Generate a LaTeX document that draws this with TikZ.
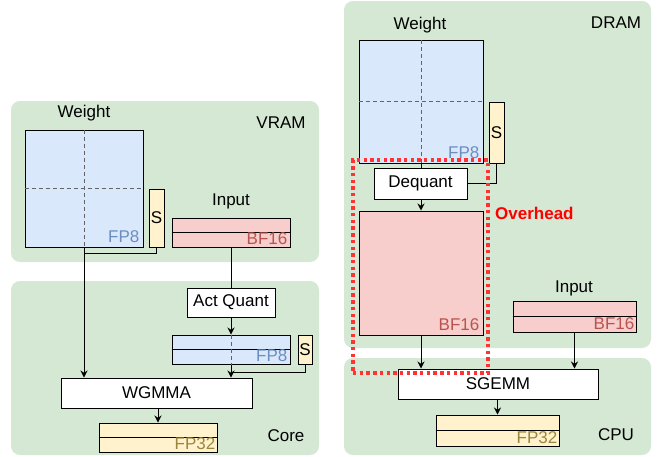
\documentclass[tikz,border=0pt]{standalone}
\usepackage{fontspec}
\setmainfont{Liberation Sans}
\usetikzlibrary{arrows.meta}
\definecolor{panelgreen}{RGB}{213,232,212}
\definecolor{fpblue}{RGB}{218,232,252}
\definecolor{fppink}{RGB}{248,206,204}
\definecolor{fpyellow}{RGB}{255,242,204}
\definecolor{txtblue}{RGB}{108,142,191}
\definecolor{txtred}{RGB}{184,84,80}
\definecolor{txtolive}{RGB}{155,135,60}
\definecolor{ohred}{RGB}{255,51,51}
\definecolor{dashgray}{RGB}{100,100,100}
\tikzset{
  panel/.style={fill=panelgreen, rounded corners=9pt, inner sep=0pt, draw=none},
  box/.style={draw=black, line width=1pt, inner sep=0pt, rectangle},
  bluebox/.style={box, fill=fpblue},
  pinkbox/.style={box, fill=fppink},
  yellowbox/.style={box, fill=fpyellow},
  whitebox/.style={box, fill=white},
  lbl/.style={inner sep=0pt, font=\fontsize{17}{20}\selectfont},
  typelbl/.style={lbl, anchor=base east},
  grid/.style={draw=dashgray, line width=1pt, dash pattern=on 4pt off 3pt},
  conn/.style={draw=black, line width=1pt},
  arr/.style={conn, -{Stealth[length=7pt,width=7pt]}},
  overhead/.style={draw=ohred, line width=3.2pt, dash pattern=on 3.4pt off 3.3pt}
}
\begin{document}
\begin{tikzpicture}[x=1pt,y=-1pt]
\useasboundingbox (0,0) rectangle (658,456);
% panels
\node[panel, minimum width=308pt, minimum height=161pt] (vram) at (165,181.5) {};
\node[panel, minimum width=308pt, minimum height=174pt] (core) at (165,368) {};
\node[panel, minimum width=307pt, minimum height=347pt] (dram) at (497.5,174.5) {};
\node[panel, minimum width=307pt, minimum height=97pt] (cpu) at (497.5,406.5) {};
% panel labels
\node[lbl] (vramlbl) at (281,123) {VRAM};
\node[lbl] (corelbl) at (286,436) {Core};
\node[lbl] (dramlbl) at (616,23) {DRAM};
\node[lbl] (cpulbl) at (616,435) {CPU};

% ---------- left side ----------
\node[lbl] (w1lbl) at (84,113) {Weight};
\node[bluebox, minimum width=118pt, minimum height=117pt] (w1) at (84,188.5) {};
\draw[grid] (w1.north) -- (w1.south);
\draw[grid] (w1.west) -- (w1.east);
\node[typelbl, text=txtblue] (w1t) at ([xshift=-4pt,yshift=5pt]w1.south east) {FP8};
\node[yellowbox, minimum width=15pt, minimum height=58pt, font=\fontsize{17}{20}\selectfont] (s1) at (156.5,218) {S};

\node[lbl] (in1lbl) at (231,201) {Input};
\node[pinkbox, minimum width=118pt, minimum height=29pt] (in1) at (231,232.5) {};
\draw[conn] (in1.west) -- (in1.east);
\node[typelbl, text=txtred] (in1t) at ([xshift=-3pt,yshift=3pt]in1.south east) {BF16};

\node[whitebox, minimum width=88pt, minimum height=29pt, font=\fontsize{17}{20}\selectfont] (aq) at (231,302.5) {Act Quant};
\node[bluebox, minimum width=118pt, minimum height=29pt] (a8) at (231,349.5) {};
\draw[conn] (a8.west) -- (a8.east);
\draw[grid] (a8.north) -- (a8.south);
\node[typelbl, text=txtblue] (a8t) at ([xshift=-3pt,yshift=3pt]a8.south east) {FP8};
\node[yellowbox, minimum width=14pt, minimum height=29pt, font=\fontsize{17}{20}\selectfont] (s2) at (305,349.5) {S};

\node[whitebox, minimum width=191pt, minimum height=30pt, font=\fontsize{17}{20}\selectfont] (wg) at (156.5,393) {WGMMA};
\node[yellowbox, minimum width=118pt, minimum height=29pt] (o1) at (158,437.5) {};
\draw[conn] (o1.west) -- (o1.east);
\node[typelbl, text=txtolive] (o1t) at ([xshift=-2pt,yshift=3pt]o1.south east) {FP32};

\coordinate (j1) at (84,253);
\coordinate (j2) at (231,372);
\draw[arr] (w1.south) -- (w1.south |- wg.north);
\draw[conn] (s1.south) |- (j1);
\draw[conn] (in1.south) -- (aq.north);
\draw[arr] (aq.south) -- (a8.north);
\draw[arr] (a8.south) -- (a8.south |- wg.north);
\draw[conn] (s2.south) |- (j2);
\draw[arr] (wg.south -| o1.north) -- (o1.north);

% ---------- right side ----------
\node[lbl] (w2lbl) at (420,25) {Weight};
\node[bluebox, minimum width=124pt, minimum height=123pt] (w2) at (421,101.5) {};
\draw[grid] (w2.north) -- (w2.south);
\draw[grid] (w2.west) -- (w2.east);
\node[typelbl, text=txtblue] (w2t) at ([xshift=-4pt,yshift=5pt]w2.south east) {FP8};
\node[yellowbox, minimum width=15pt, minimum height=61pt, font=\fontsize{17}{20}\selectfont] (s3) at (496.5,132.5) {S};
\node[whitebox, minimum width=93pt, minimum height=31pt, font=\fontsize{17}{20}\selectfont] (dq) at (420.5,183.5) {Dequant};
\node[pinkbox, minimum width=124pt, minimum height=124pt] (bf) at (421,273) {};
\node[typelbl, text=txtred] (bft) at ([xshift=-4pt,yshift=5pt]bf.south east) {BF16};

\node[lbl] (in2lbl) at (574,288) {Input};
\node[pinkbox, minimum width=123pt, minimum height=31pt] (in2) at (574.5,316.5) {};
\draw[conn] (in2.west) -- (in2.east);
\node[typelbl, text=txtred] (in2t) at ([xshift=-2pt,yshift=3pt]in2.south east) {BF16};

\node[whitebox, minimum width=200pt, minimum height=30pt, font=\fontsize{17}{20}\selectfont] (sg) at (498,384) {SGEMM};
\node[yellowbox, minimum width=123pt, minimum height=31pt] (o2) at (497.5,430.5) {};
\draw[conn] (o2.west) -- (o2.east);
\node[typelbl, text=txtolive] (o2t) at ([xshift=-2pt,yshift=3pt]o2.south east) {FP32};

\draw[conn] (w2.south) -- (dq.north -| w2.south);
\draw[conn] (s3.south) |- (dq.east);
\draw[arr] (dq.south -| bf.north) -- (bf.north);
\draw[arr] (bf.south) -- (bf.south |- sg.north);
\draw[arr] (in2.south) -- (in2.south |- sg.north);
\draw[arr] (sg.south -| o2.north) -- (o2.north);

% overhead
\node[overhead, minimum width=135pt, minimum height=213pt, inner sep=0pt] (oh) at (420.5,266.5) {};
\node[lbl, anchor=west, text=red, font=\bfseries\fontsize{17}{20}\selectfont] (ohlbl) at (495,213) {Overhead};
\end{tikzpicture}
\end{document}
